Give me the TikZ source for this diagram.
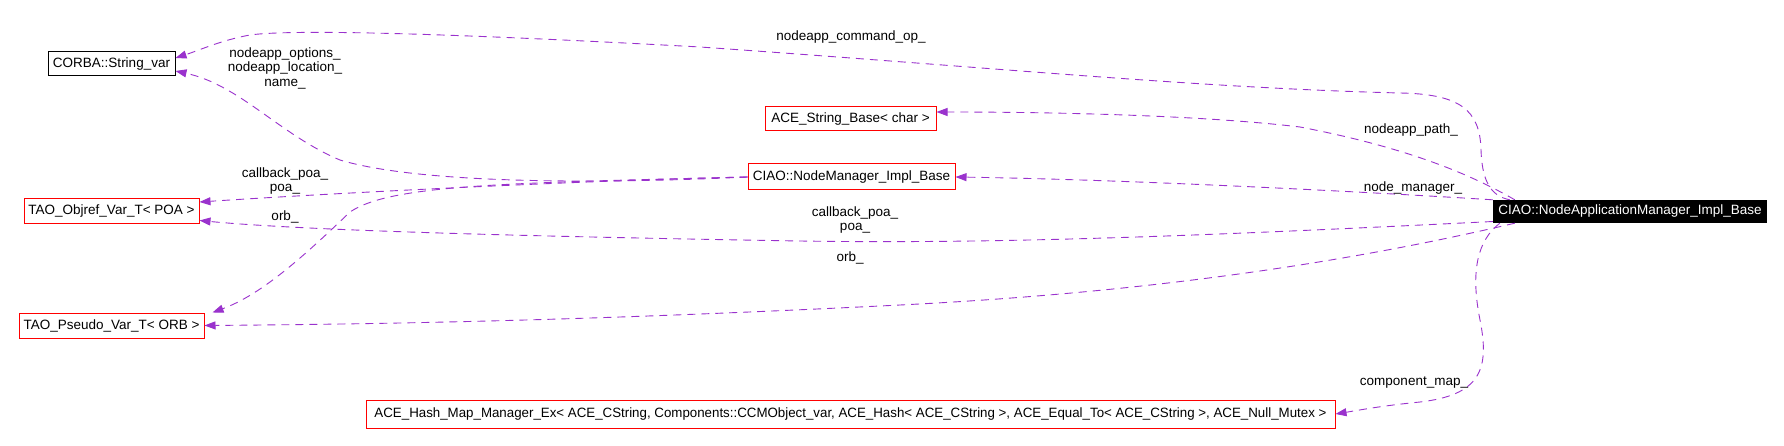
\documentclass[tikz,border=0pt]{standalone}
\usepackage{fontspec}
\setmainfont{Liberation Sans}
\usepackage{xcolor}
\usepackage{graphicx}
\usepackage{tikz}
\usetikzlibrary{arrows.meta}
\definecolor{usepurple}{HTML}{9A32CD}
\definecolor{boxred}{HTML}{FF0000}
\tikzset{cls/.style={draw=boxred,line width=1pt,minimum height=24pt,inner sep=0pt,font=\fontsize{13.5}{14.5}\selectfont},
main/.style={fill=black,text=white,minimum height=23pt,inner sep=0pt,font=\fontsize{13.5}{14.5}\selectfont},
dep/.style={-{Triangle[length=11pt,width=8pt]},usepurple,line width=0.9pt,dash pattern=on 8pt off 6pt},
lbl/.style={align=center,inner sep=0pt,font=\fontsize{13.5}{14.5}\selectfont}}

\begin{document}
\begin{tikzpicture}[x=1pt,y=-1pt]
\useasboundingbox[fill=white] (0,0) rectangle (1784,446);
\node[cls,draw=black,minimum width=127pt] (str) at (111.5,64) {CORBA::String\_var};
\node[cls,minimum width=175pt,minimum height=25pt] (poa) at (111.5,211.5) {TAO\_Objref\_Var\_T< POA >};
\node[cls,minimum width=185pt,minimum height=25pt] (orb) at (111.5,325.5) {TAO\_Pseudo\_Var\_T< ORB >};
\node[cls,minimum width=171pt] (strbase) at (850.5,119) {ACE\_String\_Base< char >};
\node[cls,minimum width=207pt,minimum height=26pt] (nmgr) at (851.5,177) {CIAO::NodeManager\_Impl\_Base};
\node[main,minimum width=274pt] (namgr) at (1630,211.5) {CIAO::NodeApplicationManager\_Impl\_Base};
\node[cls,minimum width=969pt,minimum height=28pt] (hashmap) at (850.5,414)
  {\resizebox{952pt}{\height}{ACE\_Hash\_Map\_Manager\_Ex< ACE\_CString, Components::CCMObject\_var, ACE\_Hash< ACE\_CString >, ACE\_Equal\_To< ACE\_CString >, ACE\_Null\_Mutex >}};
% members of CIAO::NodeApplicationManager_Impl_Base
\draw[dep] ([xshift=17pt]namgr.north west) .. controls (1490,196) and (1482,180) .. (1481,150)
  .. controls (1480,110) and (1460,94) .. (1400,93) .. controls (1200,88) and (1000,68) .. (700,47)
  .. controls (500,36) and (300,28) .. (250,35) .. controls (222,40) and (200,50) .. ([yshift=6pt]str.east);
\draw[dep] ([xshift=22pt]namgr.north west) .. controls (1480,180) and (1420,150) .. (1300,127)
  .. controls (1200,115) and (1050,112) .. ([yshift=7pt]strbase.east);
\draw[dep] (namgr.north west) .. controls (1400,194) and (1150,180) .. (nmgr.east);
\draw[dep] ([yshift=-10pt]namgr.west) .. controls (1200,236) and (1000,244) .. (800,241)
  .. controls (500,236) and (300,230) .. ([yshift=-9pt]poa.east);
\draw[dep] ([xshift=22pt]namgr.south west) .. controls (1400,250) and (1200,290) .. (900,305)
  .. controls (600,320) and (400,324) .. (orb.east);
\draw[dep] ([xshift=7pt]namgr.south west) .. controls (1478,240) and (1470,270) .. (1480,320)
  .. controls (1490,370) and (1480,395) .. (1420,402) .. controls (1380,406) and (1360,410) .. (hashmap.east);
% members of CIAO::NodeManager_Impl_Base
\draw[dep] (nmgr.west) .. controls (600,184) and (420,184) .. (340,160)
  .. controls (280,135) and (240,85) .. ([yshift=-7pt]str.east);
\draw[dep] (nmgr.west) .. controls (600,180) and (350,192) .. ([yshift=9.5pt]poa.east);
\draw[dep] (nmgr.west) .. controls (500,183) and (390,185) .. (350,212)
  .. controls (300,260) and (260,295) .. ([xshift=8pt]orb.north east);
% labels
\node[lbl] (lcmd) at (851,37.5) {nodeapp\_command\_op\_};
\node[lbl] (lopt) at (285,68) {nodeapp\_options\_\\nodeapp\_location\_\\name\_};
\node[lbl] (lpath) at (1411,130) {nodeapp\_path\_};
\node[lbl] (lnm) at (1413,188) {node\_manager\_};
\node[lbl] (lcba) at (285,181) {callback\_poa\_\\poa\_};
\node[lbl] (lorba) at (285,217) {orb\_};
\node[lbl] (lcbb) at (855,220) {callback\_poa\_\\poa\_};
\node[lbl] (lorbb) at (850,258) {orb\_};
\node[lbl] (lcmap) at (1414,383) {component\_map\_};
\end{tikzpicture}
\end{document}
